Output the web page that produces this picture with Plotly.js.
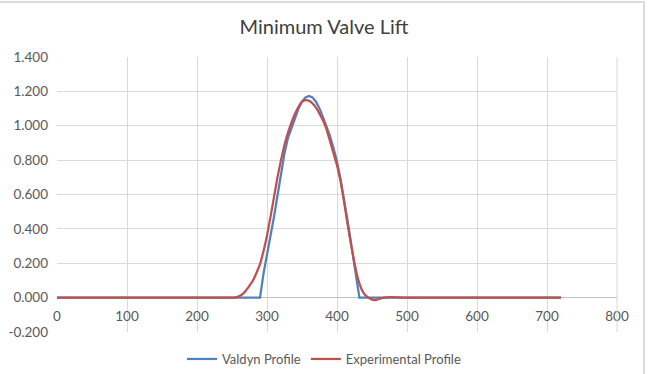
<!DOCTYPE html>
<html>
<head>
<meta charset="utf-8">
<script src="https://cdn.plot.ly/plotly-3.0.1.min.js"></script>
<style>
html,body{margin:0;padding:0;background:#fff;overflow:hidden;}
#chart{width:648px;height:374px;}
#frame{position:absolute;left:0px;top:1px;width:643px;height:380px;border-top:2px solid #dcdcdc;border-right:2px solid #dcdcdc;pointer-events:none;}
</style>
</head>
<body>
<div id="chart"></div>
<div id="frame"></div>
<script>
// Valdyn Profile (crank angle, lift)
const valdynX = [0, 100, 200, 290, 295, 300, 305, 310, 315, 320, 325, 330, 335, 340, 345, 350, 355, 360, 365, 370, 375, 380, 385, 390, 395, 400, 405, 410, 415, 420, 425, 430, 432, 500, 600, 720];
const valdynY = [0, 0, 0, 0, 0.14, 0.26, 0.36, 0.47, 0.60, 0.73, 0.84, 0.93, 0.99, 1.05, 1.10, 1.14, 1.165, 1.173, 1.165, 1.14, 1.10, 1.05, 1.0, 0.94, 0.87, 0.79, 0.69, 0.58, 0.45, 0.32, 0.18, 0.05, 0, 0, 0, 0];

// Experimental Profile (crank angle, lift)
const expX = [0, 100, 200, 250, 255, 260, 265, 270, 275, 280, 285, 290, 295, 300, 305, 310, 315, 320, 325, 330, 335, 340, 345, 350, 355, 360, 365, 370, 375, 380, 385, 390, 395, 400, 405, 410, 415, 420, 425, 430, 435, 440, 445, 450, 455, 460, 465, 470, 480, 490, 500, 600, 720];
const expY = [0, 0, 0, 0, 0.002, 0.008, 0.02, 0.042, 0.07, 0.10, 0.145, 0.195, 0.27, 0.36, 0.47, 0.585, 0.70, 0.80, 0.89, 0.96, 1.02, 1.07, 1.11, 1.14, 1.149, 1.145, 1.13, 1.105, 1.07, 1.03, 0.98, 0.91, 0.84, 0.77, 0.68, 0.56, 0.43, 0.31, 0.2, 0.11, 0.05, 0.015, 0, -0.012, -0.014, -0.008, -0.002, 0.002, 0.003, 0.001, 0, 0, 0];

const xTicks = [0, 100, 200, 300, 400, 500, 600, 700, 800];
const yTicks = [-0.2, 0, 0.2, 0.4, 0.6, 0.8, 1.0, 1.2, 1.4];

const font = "Lato, 'Open Sans', sans-serif";

const traces = [
  {x: valdynX, y: valdynY, name: 'Valdyn Profile', type: 'scatter', mode: 'lines',
   line: {color: '#4F81BD', width: 2.25}},
  {x: expX, y: expY, name: 'Experimental Profile', type: 'scatter', mode: 'lines',
   line: {color: '#C0504D', width: 2.25, shape: 'spline', smoothing: 0.3}}
];

const layout = {
  width: 648, height: 374,
  margin: {l: 57, r: 31, t: 57, b: 42},
  paper_bgcolor: '#fff', plot_bgcolor: '#fff',
  font: {family: font, color: '#595959', size: 13},
  title: {text: 'Minimum Valve Lift', x: 0.5, xanchor: 'center', y: 0.928, yanchor: 'middle',
          font: {family: font, size: 20, color: '#404040'}},
  xaxis: {
    range: [0, 800], tickvals: xTicks, ticktext: xTicks.map(String),
    showgrid: true, gridcolor: '#d9d9d9', gridwidth: 1,
    zeroline: false, showline: false, ticks: '',
    anchor: 'free', position: 35/275, automargin: false, ticklabelstandoff: 9,
    tickfont: {family: font, size: 13.5, color: '#595959'}, fixedrange: true
  },
  yaxis: {
    range: [-0.2, 1.4], tickvals: yTicks, ticktext: yTicks.map(v => v.toFixed(3)),
    showgrid: true, gridcolor: '#d9d9d9', gridwidth: 1,
    zeroline: true, zerolinecolor: '#bfbfbf', zerolinewidth: 1,
    showline: false, ticks: '', automargin: false, ticklabelstandoff: 8,
    tickfont: {family: font, size: 13.5, color: '#595959'}, fixedrange: true
  },
  showlegend: true,
  legend: {orientation: 'h', x: 0.5, xanchor: 'center', xref: 'container',
           y: -0.008, yanchor: 'bottom', yref: 'container',
           font: {family: font, size: 13, color: '#595959'}},
  shapes: [
    {type: 'line', xref: 'paper', yref: 'y', x0: 1, x1: 1, y0: -0.2, y1: 1.4, line: {color: '#d9d9d9', width: 1}}
  ]
};

Plotly.newPlot('chart', traces, layout, {displayModeBar: false, staticPlot: true});
</script>
</body>
</html>
